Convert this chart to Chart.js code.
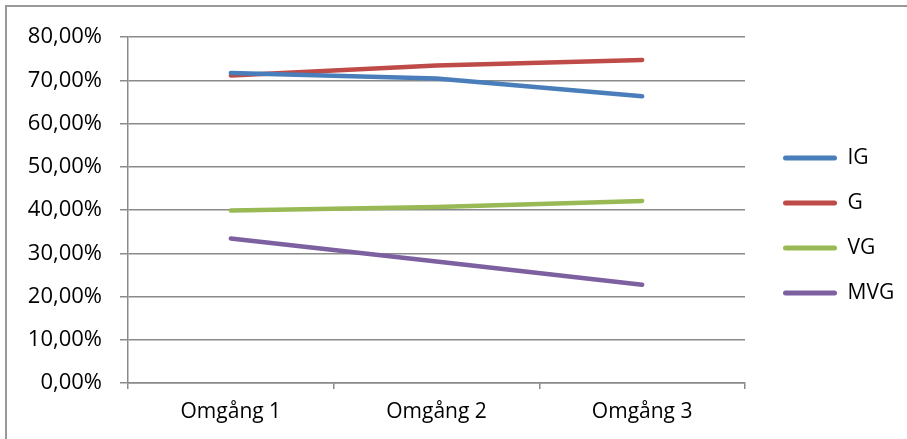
<!DOCTYPE html>
<html>
<head>
<meta charset="utf-8">
<script src="https://cdn.jsdelivr.net/npm/chart.js@4/dist/chart.umd.min.js"></script>
<style>
  body { margin: 0; overflow: hidden; background: #fff; }
  #wrap { position: relative; width: 907px; height: 439px; }
  #ram { position: absolute; left: 5px; top: 5px; width: 1000px; height: 1000px;
         border-left: 2px solid #999; border-top: 2px solid #999; }
  #myChart { position: absolute; left: 0; top: 0; }
</style>
</head>
<body>
<div id="wrap">
  <div id="ram"></div>
  <canvas id="myChart" width="907" height="439"></canvas>
</div>
<script>
// data (procent)
const omgangar = ["Omgång 1", "Omgång 2", "Omgång 3"];
const ig  = [71.7, 70.4, 66.3];
const g   = [71.1, 73.4, 74.7];
const vg  = [39.9, 40.7, 42.1];
const mvg = [33.4, 28.1, 22.7];

const serier = ["IG", "G", "VG", "MVG"];
const farger = ["#4a7ebb", "#be4b48", "#98b954", "#7d60a0"];

const typsnitt = { family: "'Open Sans', sans-serif", size: 21 };
const gra = "#8a8a8a";

// procent med komma, typ 80,00%
function procent(v) {
  return v.toFixed(2).replace(".", ",") + "%";
}

function serie(i, values) {
  return {
    label: serier[i],
    data: values,
    borderColor: farger[i],
    backgroundColor: farger[i],
    borderWidth: 4.5,
    borderCapStyle: "round",
    borderJoinStyle: "round",
    pointRadius: 0,
    tension: 0
  };
}

// legenden ska sitta lite längre ut till höger, som i originalet
const legendFix = {
  id: "legendFix",
  beforeLayout(chart) {
    const lg = chart.legend;
    if (lg && !lg._fixad) {
      const fit = lg.fit;
      lg.fit = function () { fit.call(this); this.width = 162; };
      lg._fixad = true;
    }
  },
  afterLayout(chart) {
    const lg = chart.legend;
    lg.left = 759; lg.right = 907;
    lg.top = 6; lg.bottom = 445;
  }
};

const ctx = document.getElementById("myChart");
const myChart = new Chart(ctx, {
  type: "line",
  data: {
    labels: omgangar,
    datasets: [serie(0, ig), serie(1, g), serie(2, vg), serie(3, mvg)]
  },
  options: {
    responsive: false,
    animation: false,
    layout: { padding: { top: 37, left: 0, right: 0, bottom: 0 } },
    plugins: {
      tooltip: { enabled: false },
      legend: {
        position: "right",
        labels: {
          color: "#000",
          font: typsnitt,
          boxWidth: 54,
          boxHeight: 5,
          padding: 24,
          useBorderRadius: true,
          borderRadius: 2.5,
          // utan kantlinje, annars blir rutan för tjock
          generateLabels(chart) {
            const items = Chart.defaults.plugins.legend.labels.generateLabels(chart);
            items.forEach(function (it) { it.lineWidth = 0; });
            return items;
          }
        }
      }
    },
    scales: {
      x: {
        offset: true,
        grid: { drawOnChartArea: false, offset: true, tickLength: 6, color: gra, lineWidth: 1.5 },
        border: { display: true, color: gra, width: 1.5 },
        ticks: { color: "#000", font: typsnitt, padding: 10, maxRotation: 0 },
        afterFit(scale) { scale.height = 56; }
      },
      y: {
        min: 0,
        max: 80,
        grid: { color: gra, lineWidth: 1.5, tickLength: 8 },
        border: { display: true, color: gra, width: 1.5 },
        ticks: { stepSize: 10, color: "#000", font: { family: "'Open Sans', sans-serif", size: 22 }, padding: 18, callback: procent },
        afterFit(scale) { scale.width = 128; }
      }
    }
  },
  plugins: [legendFix]
});
</script>
</body>
</html>
